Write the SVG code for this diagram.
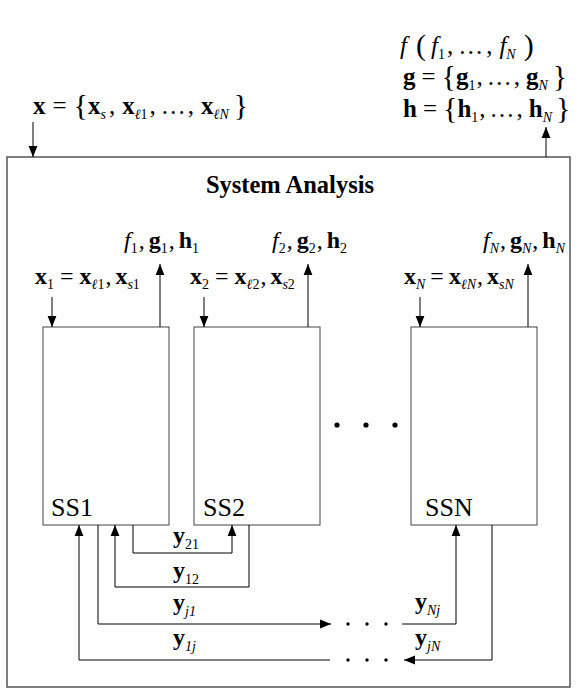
<svg xmlns="http://www.w3.org/2000/svg" width="578" height="698" viewBox="0 0 578 698">
<style>
.m{font-family:"Liberation Serif","DejaVu Serif",serif;font-size:24px;fill:#000}
.t{font-size:25px}
.b{font-weight:bold}
.i{font-style:italic}
.s{font-size:14px}
.lg{font-size:30px}
.ss{font-family:"Liberation Serif","DejaVu Serif",serif;font-size:26px;fill:#000}
.ttl{font-family:"Liberation Serif","DejaVu Serif",serif;font-size:24.5px;font-weight:bold;fill:#000}
.box{fill:#fff;stroke:#444;stroke-width:1}
.ln{fill:none;stroke:#000;stroke-width:1}
.arr{marker-end:url(#ah)}
</style>
<defs>
<marker id="ah" viewBox="0 0 10 10" refX="10" refY="5" markerWidth="11" markerHeight="11" markerUnits="userSpaceOnUse" orient="auto">
<path d="M0,1 L10,5 L0,9 z" fill="#000"/>
</marker>
</defs>

<g id="system">
<rect x="7" y="157" width="563" height="530" fill="#fff" stroke="#555" stroke-width="1.5"/>
<text class="ttl" x="290" y="193" text-anchor="middle">System Analysis</text>
</g>

<g id="inputs">
<text class="m t" x="33" y="114"><tspan class="b">x</tspan><tspan dx="7">=</tspan><tspan class="lg" dx="7" dy="1">{</tspan><tspan class="b" dy="-1">x</tspan><tspan class="s i" dy="5">s</tspan><tspan dy="-5" dx="3">,</tspan><tspan class="b" dx="7">x</tspan><tspan class="s i" dy="5">ℓ</tspan><tspan class="s">1</tspan><tspan dy="-5" dx="2">,</tspan><tspan dx="5">…</tspan><tspan dx="2">,</tspan><tspan class="b" dx="7">x</tspan><tspan class="s i" dy="5">ℓN</tspan><tspan class="lg" dy="-4" dx="5">}</tspan></text>
</g>

<g id="outputs">
<text class="m t" x="400" y="54"><tspan class="i">f</tspan><tspan class="lg" dx="9" dy="1">(</tspan><tspan class="i" dx="5" dy="-1">f</tspan><tspan class="s" dy="5">1</tspan><tspan dy="-5" dx="2">,</tspan><tspan dx="5">…</tspan><tspan dx="3">,</tspan><tspan class="i" dx="7">f</tspan><tspan class="s i" dy="5">N</tspan><tspan class="lg" dy="-4" dx="8">)</tspan></text>
<text class="m t" x="403" y="85"><tspan class="b">g</tspan><tspan dx="6">=</tspan><tspan class="lg" dx="6" dy="1">{</tspan><tspan class="b" dy="-1">g</tspan><tspan class="s" dy="5">1</tspan><tspan dy="-5" dx="1">,</tspan><tspan dx="4">…</tspan><tspan dx="2">,</tspan><tspan class="b" dx="6">g</tspan><tspan class="s i" dy="5">N</tspan><tspan class="lg" dy="-4" dx="5">}</tspan></text>
<text class="m t" x="403" y="117"><tspan class="b">h</tspan><tspan dx="6">=</tspan><tspan class="lg" dx="6" dy="1">{</tspan><tspan class="b" dy="-1">h</tspan><tspan class="s" dy="5">1</tspan><tspan dy="-5" dx="1">,</tspan><tspan dx="4">…</tspan><tspan dx="2">,</tspan><tspan class="b" dx="6">h</tspan><tspan class="s i" dy="5">N</tspan><tspan class="lg" dy="-4" dx="4">}</tspan></text>
</g>

<g id="ss1">
<rect class="box" x="43" y="327" width="126" height="198"/>
<text class="ss" x="51" y="516">SS1</text>
<text class="m" x="124" y="248"><tspan class="i">f</tspan><tspan class="s" dy="5">1</tspan><tspan dy="-5" dx="1">,</tspan><tspan class="b" dx="4">g</tspan><tspan class="s" dy="5">1</tspan><tspan dy="-5" dx="1">,</tspan><tspan class="b" dx="4">h</tspan><tspan class="s" dy="5">1</tspan></text>
<text class="m" x="35" y="284"><tspan class="b">x</tspan><tspan class="s" dy="5">1</tspan><tspan dy="-5" dx="6">=</tspan><tspan class="b" dx="6">x</tspan><tspan class="s i" dy="5">ℓ</tspan><tspan class="s">1</tspan><tspan dy="-5" dx="1">,</tspan><tspan class="b" dx="4">x</tspan><tspan class="s i" dy="5">s</tspan><tspan class="s">1</tspan></text>
</g>

<g id="ss2">
<rect class="box" x="194" y="327" width="126" height="198"/>
<text class="ss" x="203" y="516">SS2</text>
<text class="m" x="272" y="248"><tspan class="i">f</tspan><tspan class="s" dy="5">2</tspan><tspan dy="-5" dx="1">,</tspan><tspan class="b" dx="4">g</tspan><tspan class="s" dy="5">2</tspan><tspan dy="-5" dx="1">,</tspan><tspan class="b" dx="4">h</tspan><tspan class="s" dy="5">2</tspan></text>
<text class="m" x="190" y="284"><tspan class="b">x</tspan><tspan class="s" dy="5">2</tspan><tspan dy="-5" dx="6">=</tspan><tspan class="b" dx="6">x</tspan><tspan class="s i" dy="5">ℓ</tspan><tspan class="s">2</tspan><tspan dy="-5" dx="1">,</tspan><tspan class="b" dx="4">x</tspan><tspan class="s i" dy="5">s</tspan><tspan class="s">2</tspan></text>
</g>

<g id="ssn">
<rect class="box" x="411" y="327" width="126" height="198"/>
<text class="ss" x="425" y="516">SSN</text>
<text class="m" x="483" y="248"><tspan class="i">f</tspan><tspan class="s i" dy="5">N</tspan><tspan dy="-5" dx="1">,</tspan><tspan class="b" dx="4">g</tspan><tspan class="s i" dy="5">N</tspan><tspan dy="-5" dx="1">,</tspan><tspan class="b" dx="4">h</tspan><tspan class="s i" dy="5">N</tspan></text>
<text class="m" x="404" y="284"><tspan class="b">x</tspan><tspan class="s i" dy="5">N</tspan><tspan dy="-5" dx="5">=</tspan><tspan class="b" dx="5">x</tspan><tspan class="s i" dy="5">ℓN</tspan><tspan dy="-5" dx="1">,</tspan><tspan class="b" dx="4">x</tspan><tspan class="s i" dy="5">sN</tspan></text>
</g>

<g id="ellipsis">
<circle cx="337" cy="425" r="2.6"/>
<circle cx="366" cy="425" r="2.6"/>
<circle cx="395" cy="425" r="2.6"/>
<circle cx="348" cy="624" r="1.7"/>
<circle cx="367" cy="624" r="1.7"/>
<circle cx="386" cy="624" r="1.7"/>
<circle cx="348" cy="660" r="1.7"/>
<circle cx="367" cy="660" r="1.7"/>
<circle cx="386" cy="660" r="1.7"/>
</g>

<g id="connectors">
<path class="ln arr" d="M33,122 V157"/>
<path class="ln arr" d="M546,157 V127"/>
<path class="ln arr" d="M52,297 V327"/>
<path class="ln arr" d="M160,327 V264"/>
<path class="ln arr" d="M204,297 V327"/>
<path class="ln arr" d="M308,327 V264"/>
<path class="ln arr" d="M420,297 V327"/>
<path class="ln arr" d="M528,327 V264"/>
<path class="ln arr" d="M133,525 V553 H232 V525"/>
<path class="ln arr" d="M249,525 V587 H115 V525"/>
<path class="ln arr" d="M98,525 V624 H331"/>
<path class="ln arr" d="M402,624 H456 V525"/>
<path class="ln arr" d="M492,525 V660 H404"/>
<path class="ln arr" d="M330,660 H79 V525"/>
<text class="m" x="173" y="543"><tspan class="b">y</tspan><tspan class="s" dy="6">21</tspan></text>
<text class="m" x="173" y="578"><tspan class="b">y</tspan><tspan class="s" dy="6">12</tspan></text>
<text class="m" x="173" y="610"><tspan class="b">y</tspan><tspan class="s i" dy="6">j1</tspan></text>
<text class="m" x="173" y="645"><tspan class="b">y</tspan><tspan class="s i" dy="6">1j</tspan></text>
<text class="m" x="415" y="609"><tspan class="b">y</tspan><tspan class="s i" dy="6">Nj</tspan></text>
<text class="m" x="415" y="645"><tspan class="b">y</tspan><tspan class="s i" dy="6">jN</tspan></text>
</g>
</svg>
